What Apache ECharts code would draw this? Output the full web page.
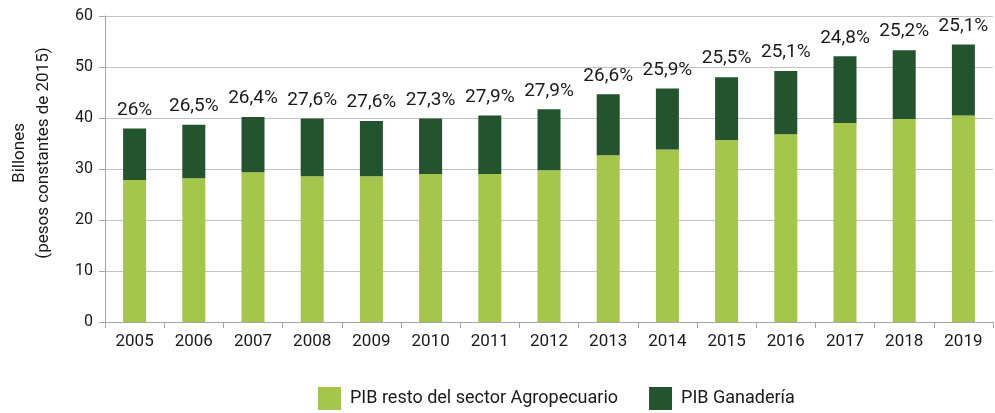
<!DOCTYPE html>
<html>
<head>
<meta charset="utf-8">
<script src="https://cdn.jsdelivr.net/npm/echarts@6/dist/echarts.min.js"></script>
<style>
html,body{margin:0;padding:0;background:#fff;}
#c{width:995px;height:413px;}
</style>
</head>
<body>
<div id="c"></div>
<script>
const years = ['2005','2006','2007','2008','2009','2010','2011','2012','2013','2014','2015','2016','2017','2018','2019'];
const restoAgro = [27.85, 28.2, 29.35, 28.6, 28.6, 29.0, 29.0, 29.75, 32.7, 33.8, 35.7, 36.8, 39.0, 39.8, 40.5];
const ganaderia = [10.1, 10.5, 10.85, 11.3, 10.8, 10.9, 11.5, 11.95, 11.95, 12.0, 12.3, 12.4, 13.1, 13.5, 13.9];
const shareLabels = ['26%','26,5%','26,4%','27,6%','27,6%','27,3%','27,9%','27,9%','26,6%','25,9%','25,5%','25,1%','24,8%','25,2%','25,1%'];
const yTicks = [0, 10, 20, 30, 40, 50, 60];
const yAxisTitle = 'Billones\n(pesos constantes de 2015)';

const font = 'Roboto, "DejaVu Sans", sans-serif';
const chart = echarts.init(document.getElementById('c'), null, {renderer: 'canvas'});
chart.setOption({
  animation: false,
  textStyle: {fontFamily: font},
  grid: {left: 105, right: 2, top: 16, bottom: 91, containLabel: false},
  legend: {
    top: 387,
    left: 318,
    padding: 0,
    itemWidth: 23,
    itemHeight: 23,
    itemGap: 31,
    icon: 'rect',
    textStyle: {fontFamily: font, fontSize: 18, color: '#1a1a1a', padding: [0, 0, 0, 4]},
    data: ['PIB resto del sector Agropecuario', 'PIB Ganadería']
  },
  graphic: [{
    type: 'text',
    x: 32,
    y: 153,
    rotation: Math.PI / 2,
    style: {
      text: yAxisTitle,
      fontFamily: font,
      fontSize: 17,
      lineHeight: 24,
      fill: '#1a1a1a',
      align: 'center',
      verticalAlign: 'middle'
    }
  }],
  xAxis: {
    type: 'category',
    data: years,
    axisLine: {lineStyle: {color: '#a6a6a6', width: 1}},
    axisTick: {show: true, length: 6, lineStyle: {color: '#a6a6a6'}},
    axisLabel: {fontFamily: font, fontSize: 17, color: '#1a1a1a', margin: 11}
  },
  yAxis: {
    type: 'value',
    min: yTicks[0],
    max: yTicks[yTicks.length - 1],
    interval: 10,
    axisLine: {show: true, lineStyle: {color: '#a6a6a6'}},
    axisTick: {show: true, length: 6, lineStyle: {color: '#a6a6a6'}},
    axisLabel: {fontFamily: font, fontSize: 16, color: '#1a1a1a', margin: 12},
    splitLine: {lineStyle: {color: '#c4c4c4', width: 1}}
  },
  series: [
    {
      name: 'PIB resto del sector Agropecuario',
      type: 'bar',
      stack: 'total',
      data: restoAgro,
      barWidth: 23,
      itemStyle: {color: '#a4c64a'}
    },
    {
      name: 'PIB Ganadería',
      type: 'bar',
      stack: 'total',
      data: ganaderia,
      barWidth: 23,
      itemStyle: {color: '#23542d'},
      label: {
        show: true,
        position: 'top',
        distance: 9,
        fontFamily: font,
        fontSize: 19,
        color: '#1a1a1a',
        formatter: p => shareLabels[p.dataIndex]
      }
    }
  ]
});
</script>
</body>
</html>
